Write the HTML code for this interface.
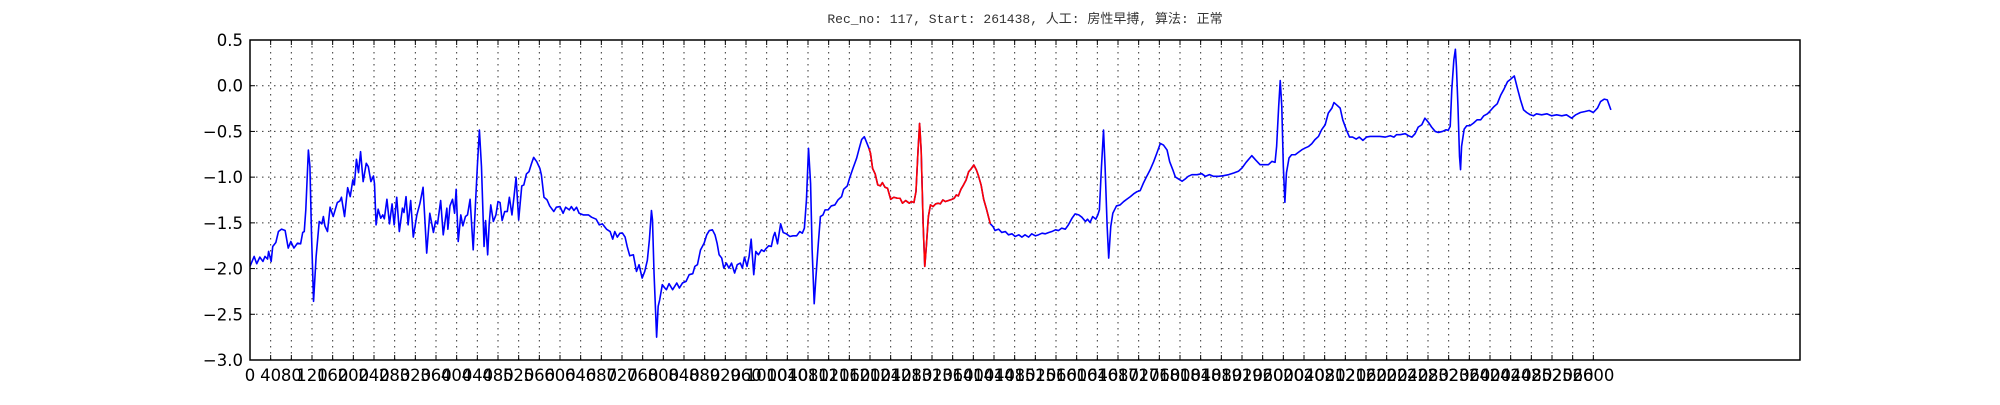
<!DOCTYPE html>
<html><head><meta charset="utf-8">
<style>
html,body{margin:0;padding:0;background:#fff;}
svg text{font-family:"DejaVu Sans","Liberation Sans",sans-serif;}
</style></head>
<body>
<svg id="chart" width="2000" height="400" viewBox="0 0 2000 400" xmlns="http://www.w3.org/2000/svg">
<text x="1025" y="23" text-anchor="middle" font-size="13" fill="#333" style="font-family:'Liberation Mono','Noto Sans CJK SC',monospace">Rec_no: 117, Start: 261438, 人工: 房性早搏, 算法: 正常</text>
<g id="grid"></g>
<g id="series"></g>
<rect x="250" y="40" width="1550" height="320" fill="none" stroke="#000" stroke-width="1.5"/>
<g id="ticks"></g>
</svg>
<script>
const samples=[0,8,13,19,25,29,34,36,41,44,50,55,61,68,74,79,85,92,98,102,105,108,113,116,119,123,128,134,139,142,145,150,155,161,169,174,177,183,189,194,199,202,206,210,214,219,225,229,234,239,241,244,248,253,257,260,265,270,275,279,284,289,295,298,302,306,311,316,323,329,335,342,348,355,359,363,369,374,381,383,387,392,396,399,403,408,412,417,421,426,432,440,444,
448,453,456,460,463,466,471,476,480,484,488,493,498,502,507,511,515,520,526,530,535,540,545,549,555,561,564,569,575,580,588,593,600,606,611,618,622,627,632,637,645,655,661,670,676,682,690,697,702,706,711,716,721,726,730,735,742,748,753,759,764,769,773,777,779,782,787,790,793,798,803,806,811,818,826,831,837,844,850,857,861,866,872,879,884,889,
895,900,904,908,913,917,922,927,932,938,943,949,953,957,962,966,970,975,979,984,990,995,998,1004,1009,1013,1016,1021,1027,1032,1038,1045,1051,1058,1064,1069,1073,1077,1081,1085,1088,1092,1095,1100,1104,1109,1113,1119,1125,1132,1138,1145,1149,1156,1161,1167,1174,1180,1184,1189,1193,1198,1201,1205,1210,1215,1220,1224,1229,1234,1240,1246,1253,1258,1263,1269,1276,1280,1285,1289,1293,1296,1299,1303,1306,1309,1313,1317,1322,1327,1332,1336,
1341,1346,1352,1359,1363,1367,1371,1376,1381,1386,1391,1395,1401,1406,1410,1415,1420,1425,1430,1433,1438,1442,1449,1455,1462,1468,1475,1481,1488,1494,1500,1507,1513,1520,1526,1533,1539,1546,1552,1559,1565,1571,1578,1584,1591,1597,1604,1610,1617,1621,1626,1631,1637,1641,1644,1648,1652,1655,1659,1662,1666,1670,1677,1684,1691,1697,1704,1710,1717,1723,1729,1736,1742,1749,1755,1762,1768,1775,1780,
1786,1791,1797,1804,1810,1816,1823,1833,1842,1849,1857,1865,1875,1884,1894,1904,1913,1920,1928,1939,1947,1955,1963,1971,1978,1984,1987,1991,1994,1997,2000,2003,2006,2011,2016,2023,2029,2036,2042,2049,2055,2061,2068,2074,2081,2087,2094,2098,2103,2110,2115,2122,2128,2134,2141,2147,2154,2161,2168,2177,2187,2197,2207,2214,2219,
2226,2236,2242,2249,2255,2261,2268,2274,2281,2287,2294,2300,2308,2315,2319,2323,2326,2330,2333,2335,2338,2341,2343,2345,2350,2355,2361,2368,2375,2382,2388,2395,2401,2408,2414,2421,2427,2434,2440,2447,2453,2459,2465,2471,2478,2484,2490,2500,2510,2519,2529,2539,2548,2558,2566,2575,2584,2592,2600,2608,2614,2621,2627,2634];
const values=[-1.976,-1.867,-1.947,-1.875,-1.922,-1.867,-1.896,-1.813,-1.922,-1.758,-1.715,-1.595,-1.569,-1.584,-1.776,-1.704,-1.776,-1.722,-1.729,-1.605,-1.595,-1.358,-0.704,-0.885,-1.613,-2.358,-1.867,-1.485,-1.511,-1.431,-1.533,-1.595,-1.329,-1.431,-1.278,-1.260,-1.220,-1.431,-1.115,-1.213,-1.031,-1.085,-0.805,-0.951,-0.722,-1.049,-0.849,-0.885,-1.049,-0.987,-1.075,-1.522,-1.351,-1.449,-1.413,-1.456,-1.242,-1.511,-1.293,-1.522,-1.220,-1.595,-1.340,-1.387,-1.213,-1.522,-1.256,-1.656,-1.413,-1.285,-1.111,-1.831,-1.395,-1.605,-1.485,-1.511,-1.256,-1.631,-1.340,-1.569,-1.315,-1.242,-1.395,-1.133,-1.704,-1.413,-1.533,-1.431,-1.413,-1.242,-1.795,-0.885,-0.485,
-0.885,-1.758,-1.475,-1.849,-1.504,-1.304,-1.485,-1.413,-1.267,-1.278,-1.475,-1.376,-1.376,-1.220,-1.413,-1.213,-1.002,-1.467,-1.096,-1.085,-0.965,-0.940,-0.849,-0.784,-0.831,-0.904,-0.976,-1.220,-1.249,-1.315,-1.376,-1.329,-1.322,-1.395,-1.329,-1.358,-1.322,-1.365,-1.329,-1.395,-1.413,-1.413,-1.438,-1.460,-1.522,-1.511,-1.569,-1.595,-1.678,-1.595,-1.656,-1.613,-1.613,-1.656,-1.758,-1.860,-1.849,-2.031,-1.958,-2.104,-2.031,-1.911,-1.685,-1.365,-1.467,-2.049,-2.75,-2.413,-2.340,-2.176,-2.213,-2.231,-2.165,-2.231,-2.158,-2.213,-2.158,-2.140,-2.067,-2.056,-1.976,-1.958,-1.795,-1.722,-1.631,-1.584,
-1.576,-1.631,-1.722,-1.849,-1.885,-1.995,-1.940,-1.995,-1.940,-2.049,-1.958,-1.940,-1.995,-1.875,-1.976,-1.867,-1.678,-2.067,-1.813,-1.849,-1.795,-1.813,-1.787,-1.751,-1.758,-1.649,-1.605,-1.729,-1.511,-1.605,-1.620,-1.649,-1.642,-1.642,-1.595,-1.613,-1.558,-1.249,-0.685,-1.067,-1.795,-2.384,-2.122,-1.722,-1.431,-1.413,-1.358,-1.358,-1.315,-1.304,-1.249,-1.213,-1.133,-1.096,-1.002,-0.904,-0.795,-0.667,-0.587,-0.558,-0.613,-0.685,-0.740,-0.904,-0.965,-1.085,-1.096,-1.060,-1.111,-1.122,-1.242,-1.220,-1.231,-1.231,-1.285,-1.256,-1.285,-1.267,-1.278,-1.158,-0.704,-0.413,-0.704,-1.540,-1.976,-1.758,-1.431,-1.304,-1.322,-1.293,-1.285,-1.293,
-1.249,-1.267,-1.256,-1.242,-1.231,-1.195,-1.205,-1.133,-1.085,-1.031,-0.940,-0.915,-0.867,-0.922,-0.987,-1.085,-1.242,-1.340,-1.449,-1.511,-1.540,-1.584,-1.569,-1.605,-1.595,-1.631,-1.620,-1.649,-1.631,-1.656,-1.631,-1.656,-1.620,-1.642,-1.631,-1.613,-1.620,-1.605,-1.595,-1.576,-1.584,-1.558,-1.569,-1.522,-1.449,-1.402,-1.413,-1.438,-1.485,-1.460,-1.496,-1.431,-1.460,-1.413,-1.358,-0.885,-0.485,-0.885,-1.540,-1.885,-1.540,-1.395,-1.315,-1.304,-1.267,-1.242,-1.213,-1.184,-1.158,-1.147,-1.067,-0.987,-0.922,-0.831,-0.740,-0.631,-0.649,-0.704,-0.831,
-0.918,-0.998,-1.020,-1.045,-1.020,-0.991,-0.973,-0.973,-0.962,-0.991,-0.973,-0.991,-0.991,-0.984,-0.973,-0.955,-0.936,-0.900,-0.838,-0.765,-0.816,-0.864,-0.864,-0.864,-0.827,-0.838,-0.664,-0.227,0.056,-0.227,-0.882,-1.275,-0.955,-0.791,-0.755,-0.755,-0.729,-0.700,-0.682,-0.664,-0.635,-0.591,-0.555,-0.482,-0.427,-0.300,-0.245,-0.184,-0.209,-0.245,-0.373,-0.482,-0.562,-0.562,-0.584,-0.562,-0.598,-0.562,-0.555,-0.555,-0.555,-0.562,-0.547,-0.562,-0.536,
-0.536,-0.525,-0.547,-0.562,-0.525,-0.453,-0.427,-0.355,-0.402,-0.453,-0.500,-0.511,-0.500,-0.482,-0.489,-0.445,-0.045,0.282,0.398,0.209,-0.227,-0.773,-0.918,-0.664,-0.475,-0.438,-0.438,-0.409,-0.373,-0.373,-0.329,-0.307,-0.271,-0.227,-0.198,-0.100,-0.038,0.045,0.071,0.107,-0.027,-0.155,-0.264,-0.293,-0.318,-0.329,-0.307,-0.318,-0.307,-0.329,-0.318,-0.329,-0.318,-0.355,-0.318,-0.293,-0.282,-0.271,-0.293,-0.245,-0.173,-0.147,-0.155,-0.264];
const redRange=[1198,1436];
const yTicks=[0.5,0.0,-0.5,-1.0,-1.5,-2.0,-2.5,-3.0];
const yTickLabels=["0.5","0.0","\u22120.5","\u22121.0","\u22121.5","\u22122.0","\u22122.5","\u22123.0"];
const xTickStep=40, xTickMax=2600;
const xDomain=[0,3000], yDomain=[-3,0.5];

const L=250,R=1800,T=40,B=360;
const sx=v=>L+(v-xDomain[0])/(xDomain[1]-xDomain[0])*(R-L);
const sy=v=>B-(v-yDomain[0])/(yDomain[1]-yDomain[0])*(B-T);
const NS="http://www.w3.org/2000/svg";
const grid=document.getElementById('grid'), ticks=document.getElementById('ticks'), series=document.getElementById('series');
function mk(tag,attrs,parent){const e=document.createElementNS(NS,tag);for(const k in attrs)e.setAttribute(k,attrs[k]);parent.appendChild(e);return e;}

for(let i=0;i<yTicks.length;i++){
  const y=sy(yTicks[i]);
  const g=mk('line',{x1:L,x2:R,y1:y,y2:y,stroke:'#000','stroke-width':1,'stroke-dasharray':'1.5,4.5',opacity:0.8},grid);
  
  
  const t1=mk('line',{x1:L,x2:L+5,y1:y,y2:y,stroke:'#000','stroke-width':1},ticks);
  
  
  const t2=mk('line',{x1:R-5,x2:R,y1:y,y2:y,stroke:'#000','stroke-width':1},ticks);
  
  
  const lb=mk('text',{x:L-7,y:y+6,'text-anchor':'end','font-size':16.5,fill:'#000'},ticks);
  lb.textContent=yTickLabels[i];
  
  
}
for(let v=0;v<=xTickMax;v+=xTickStep){
  const x=sx(v);
  if(v>0){
    const g=mk('line',{x1:x,x2:x,y1:T,y2:B,stroke:'#000','stroke-width':1,'stroke-dasharray':'1.5,4.5',opacity:0.8},grid);
    
    
  }
  const t1=mk('line',{x1:x,x2:x,y1:B-5,y2:B,stroke:'#000','stroke-width':1},ticks);
  
  
  const t2=mk('line',{x1:x,x2:x,y1:T,y2:T+5,stroke:'#000','stroke-width':1},ticks);
  
  
  const lb=mk('text',{x:x,y:B+21,'text-anchor':'middle','font-size':16.5,fill:'#000'},ticks);
  lb.textContent=String(v);
  
  
}
function pathFor(filter){
  let d='',first=true;
  for(let i=0;i<samples.length;i++){
    if(!filter(samples[i]))continue;
    d+=(first?'M':'L')+sx(samples[i]).toFixed(2)+','+sy(values[i]).toFixed(2);
    first=false;
  }
  return d;
}
const blue=mk('path',{d:pathFor(()=>true),fill:'none',stroke:'#0000ff','stroke-width':1.6,'stroke-linejoin':'round'},series);


const red=mk('path',{d:pathFor(s=>s>=redRange[0]&&s<=redRange[1]),fill:'none',stroke:'#ff0000','stroke-width':1.6,'stroke-linejoin':'round'},series);


</script>
</body></html>
